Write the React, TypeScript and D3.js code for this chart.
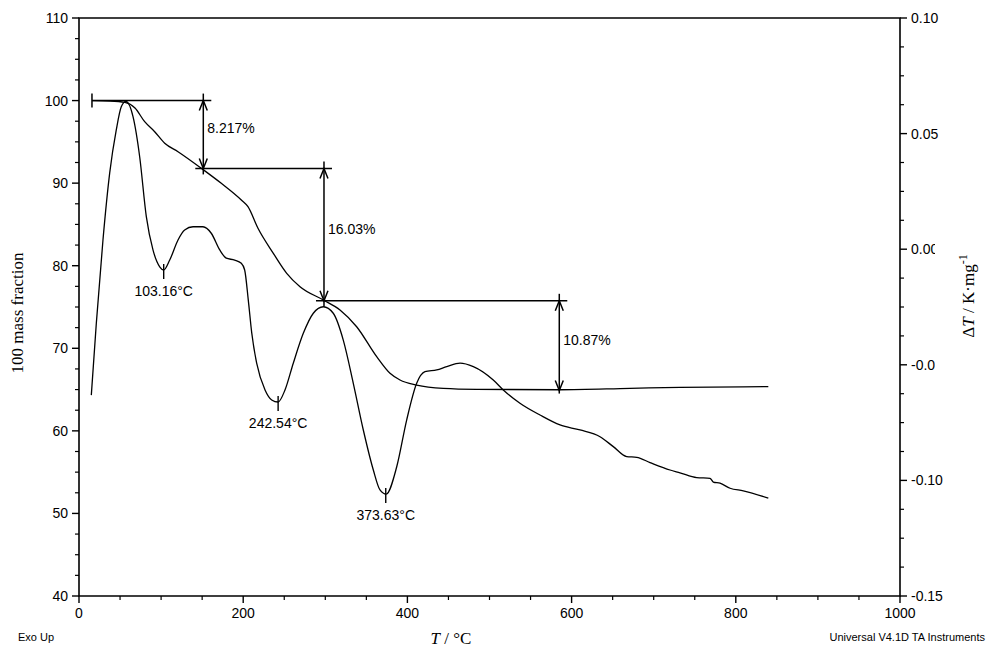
import * as d3 from 'd3';

// TG curve (mass fraction, left axis)
const tgTemp = [15.8, 37.8, 56.0, 68.2, 80.0, 92.2, 104.4, 120.6, 149.0, 173.3, 197.7, 205.8, 218.0, 236.7, 253.0, 269.2, 297.6, 317.9, 338.2, 362.6, 378.8, 391.0, 411.3, 443.7, 484.4, 585.9, 671.1, 732.0, 839.6];
const tgMass = [100.0, 99.95, 99.77, 99.1, 97.44, 96.23, 94.83, 93.81, 91.8, 89.98, 87.96, 87.15, 84.53, 81.5, 79.08, 77.46, 75.85, 74.64, 72.61, 68.98, 66.97, 66.16, 65.55, 65.15, 65.03, 64.98, 65.15, 65.27, 65.35];

// DTA curve (right axis)
const dtaTemp = [15.0, 21.1, 29.2, 37.4, 45.4, 51.5, 57.2, 65.8, 73.9, 82.0, 90.1, 98.3, 103.2, 110.5, 120.6, 128.7, 138.9, 151.0, 161.1, 171.4, 179.4, 189.6, 197.7, 201.8, 206.2, 210.4, 216.4, 226.6, 234.7, 242.4, 250.9, 261.0, 273.2, 285.4, 297.6, 309.7, 321.9, 334.1, 346.3, 358.5, 366.6, 374.2, 387.0, 399.1, 411.3, 421.4, 435.7, 447.9, 464.1, 480.3, 504.6, 516.8, 537.1, 561.5, 585.9, 610.2, 634.6, 650.8, 667.1, 679.3, 695.5, 719.9, 732.0, 752.4, 768.6, 772.6, 780.8, 793.0, 809.1, 839.6];
const dtaValue = [-0.0631, -0.032, 0.004, 0.033, 0.0516, 0.0616, 0.0639, 0.0573, 0.04, 0.0141, -0.0003, -0.0076, -0.009, -0.0047, 0.004, 0.0083, 0.0097, 0.0097, 0.0069, -0.0003, -0.0039, -0.0047, -0.0061, -0.009, -0.022, -0.0362, -0.0493, -0.0609, -0.0652, -0.0661, -0.0609, -0.0493, -0.0364, -0.0277, -0.0249, -0.0277, -0.0393, -0.058, -0.0782, -0.0955, -0.1041, -0.1059, -0.0941, -0.0739, -0.058, -0.053, -0.0522, -0.0508, -0.0493, -0.0508, -0.0566, -0.0609, -0.0666, -0.0717, -0.076, -0.0782, -0.0811, -0.0854, -0.0897, -0.09, -0.0923, -0.0955, -0.0967, -0.0988, -0.0991, -0.1007, -0.1012, -0.1034, -0.1045, -0.1077];

// mass-loss steps
const stepStart = 15.8;
const stepTemps = [151.4, 298.4, 585];
const stepFrom = [100, 91.78, 75.75];
const stepLoss = [8.217, 16.03, 10.87];
const stepLabels = ['8.217%', '16.03%', '10.87%'];

// DTA minima
const peakTemps = [103.16, 242.54, 373.63];
const peakValues = [-0.009, -0.0661, -0.1059];
const peakLabels = ['103.16°C', '242.54°C', '373.63°C'];

const xTicks = [0, 200, 400, 600, 800, 1000];
const leftTicks = [40, 50, 60, 70, 80, 90, 100, 110];
const rightTicks = [0.1, 0.05, 0, -0.05, -0.1, -0.15];
const rightLabels = ['0.10', '0.05', '0.00', '-0.05', '-0.10', '-0.15'];

const W = 991;
const H = 650;
const L = 79, R = 900, T = 18, B = 596;
const SANS = 'Arial, "Liberation Sans", Helvetica, sans-serif';
const SERIF = '"Times New Roman", "Liberation Serif", serif';

const arrowHead = (x: number, y: number, dir: number) =>
  `M${x - 4},${y - dir * 10}L${x},${y}L${x + 4},${y - dir * 10}`;

export default function App() {
  const x = d3.scaleLinear().domain([0, 1000]).range([L, R]);
  const yMass = d3.scaleLinear().domain([40, 110]).range([B, T]);
  const yDta = d3.scaleLinear().domain([-0.15, 0.1]).range([B, T]);

  const tgLine = d3.line<number>()
    .x((d, i) => x(tgTemp[i]))
    .y((d) => yMass(d))
    .curve(d3.curveMonotoneX);
  const dtaLine = d3.line<number>()
    .x((d, i) => x(dtaTemp[i]))
    .y((d) => yDta(d))
    .curve(d3.curveMonotoneX);

  const xMinor = d3.range(0, 1001, 50).filter((v) => v % 200 !== 0);
  const leftMinor = d3.range(40, 110.01, 2.5).filter((v) => v % 10 !== 0);
  const rightMinor = d3.range(0, 21).map((i) => -0.15 + i * 0.0125).filter((_, i) => i % 4 !== 0);

  return (
    <svg width={W} height={H} style={{ position: 'absolute', left: 0, top: 0, background: '#fff' }}>
      <defs>
        {/* the right tick labels 0.00 and -0.05 are cut short in the original */}
        <clipPath id="clipR"><rect x={900} y={0} width={35} height={H} /></clipPath>
      </defs>

      {/* frame */}
      <path d={`M${L},${T}H${R}V${B}H${L}Z`} fill="none" stroke="#000" strokeWidth={1.6} />

      {/* x axis ticks */}
      {xTicks.map((v) => (
        <g key={'x' + v}>
          <line x1={x(v)} x2={x(v)} y1={B} y2={B + 7} stroke="#000" strokeWidth={1.4} />
          <text x={x(v)} y={B + 22} textAnchor="middle" fontFamily={SANS} fontSize={14}>{v}</text>
        </g>
      ))}
      {xMinor.map((v) => (
        <line key={'xm' + v} x1={x(v)} x2={x(v)} y1={B} y2={B + 4} stroke="#000" strokeWidth={1.2} />
      ))}

      {/* left axis */}
      {leftTicks.map((v) => (
        <g key={'l' + v}>
          <line x1={L - 7} x2={L} y1={yMass(v)} y2={yMass(v)} stroke="#000" strokeWidth={1.4} />
          <text x={L - 11} y={yMass(v) + 5} textAnchor="end" fontFamily={SANS} fontSize={14}>{v}</text>
        </g>
      ))}
      {leftMinor.map((v) => (
        <line key={'lm' + v} x1={L - 4} x2={L} y1={yMass(v)} y2={yMass(v)} stroke="#000" strokeWidth={1.2} />
      ))}

      {/* right axis */}
      {rightTicks.map((v, i) => (
        <g key={'r' + i}>
          <line x1={R} x2={R + 7} y1={yDta(v)} y2={yDta(v)} stroke="#000" strokeWidth={1.4} />
          <text x={R + 11} y={yDta(v) + 5} fontFamily={SANS} fontSize={14}
            clipPath={i === 2 || i === 3 ? 'url(#clipR)' : undefined}>{rightLabels[i]}</text>
        </g>
      ))}
      {rightMinor.map((v, i) => (
        <line key={'rm' + i} x1={R} x2={R + 4} y1={yDta(v)} y2={yDta(v)} stroke="#000" strokeWidth={1.2} />
      ))}

      {/* curves */}
      <path d={tgLine(tgMass) ?? ''} fill="none" stroke="#000" strokeWidth={1.3} />
      <path d={dtaLine(dtaValue) ?? ''} fill="none" stroke="#000" strokeWidth={1.3} />

      {/* step annotations */}
      <line x1={x(stepStart)} x2={x(stepStart)} y1={yMass(100) - 7} y2={yMass(100) + 7} stroke="#000" strokeWidth={1.5} />
      {stepTemps.map((t, i) => {
        const xs = i === 0 ? x(stepStart) : x(stepTemps[i - 1]) - 8;
        const yTop = yMass(stepFrom[i]);
        const yBot = yMass(stepFrom[i] - stepLoss[i]);
        const xv = x(t);
        return (
          <g key={'s' + i} stroke="#000" fill="none" strokeWidth={1.5}>
            <line x1={xs} x2={xv + 8} y1={yTop} y2={yTop} />
            <line x1={xv} x2={xv} y1={yTop - 7} y2={yBot + (i === 2 ? 3 : 6)} />
            <path d={arrowHead(xv, yTop, -1)} />
            <path d={arrowHead(xv, yBot, 1)} />
            <text x={xv + 4} y={(yTop + yBot) / 2 - 1} stroke="none" fill="#000" fontFamily={SANS} fontSize={14}>{stepLabels[i]}</text>
          </g>
        );
      })}

      {/* DTA peak markers */}
      {peakTemps.map((t, i) => (
        <g key={'p' + i}>
          <line x1={x(t)} x2={x(t)} y1={yDta(peakValues[i]) - 6} y2={yDta(peakValues[i]) + 9} stroke="#000" strokeWidth={1.4} />
          <text x={x(t)} y={yDta(peakValues[i]) + 26} textAnchor="middle" fontFamily={SANS} fontSize={14}>{peakLabels[i]}</text>
        </g>
      ))}

      {/* axis titles */}
      <text transform={`translate(23,${313}) rotate(-90)`} textAnchor="middle" fontFamily={SERIF} fontSize={17}>100 mass fraction</text>
      <text transform={`translate(974,${296}) rotate(-90)`} textAnchor="middle" fontFamily={SERIF} fontSize={17}>
        Δ<tspan fontStyle="italic">T</tspan> / K·mg<tspan dy={-7} fontSize={12}>-1</tspan>
      </text>
      <text x={451} y={644} textAnchor="middle" fontFamily={SERIF} fontSize={17}>
        <tspan fontStyle="italic">T</tspan> / °C
      </text>

      <text x={18} y={641} fontFamily={SANS} fontSize={11}>Exo Up</text>
      <text x={985} y={641} textAnchor="end" fontFamily={SANS} fontSize={11}>Universal V4.1D TA Instruments</text>
    </svg>
  );
}
